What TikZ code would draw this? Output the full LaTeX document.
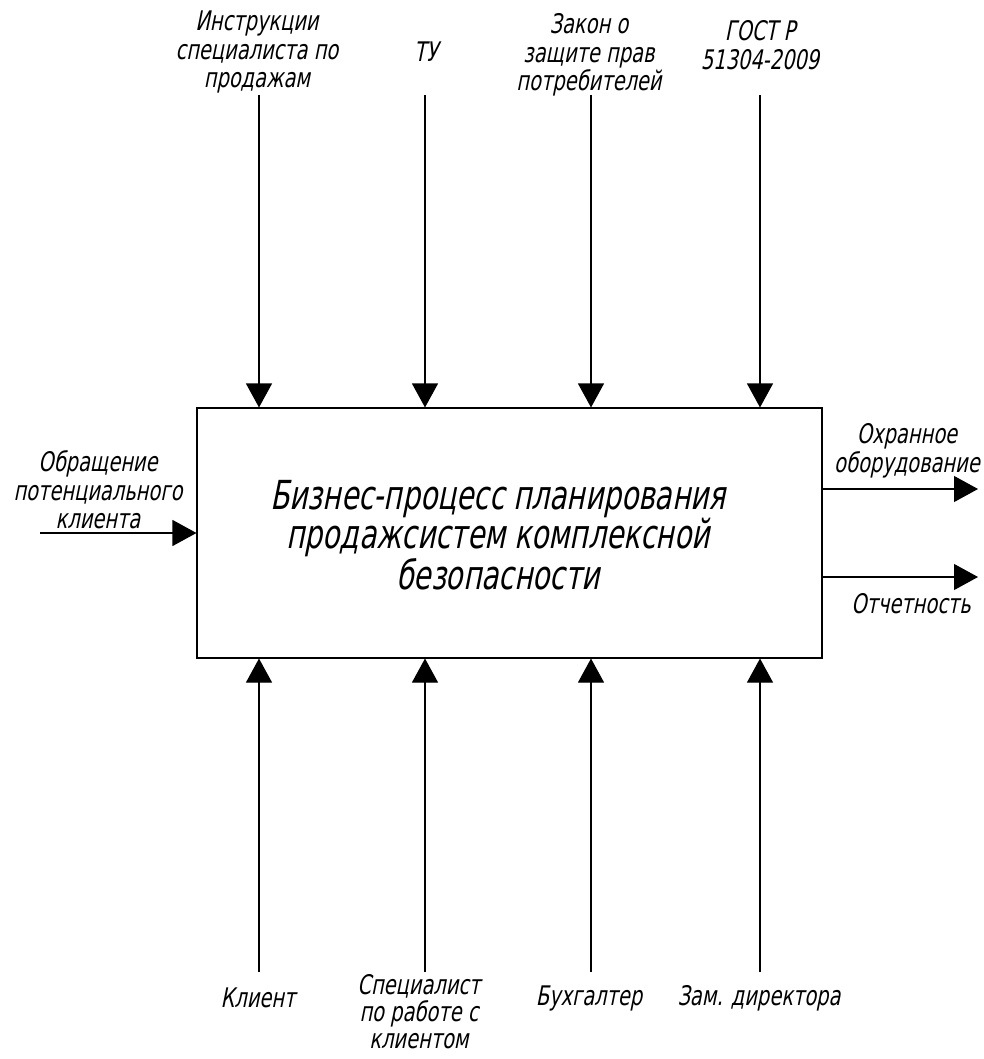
\documentclass[tikz,border=0pt]{standalone}
\usepackage{fontspec}
\usetikzlibrary{arrows.meta}
\newfontfamily\gost{DejaVu Sans Condensed}[FakeSlant=0.2, FakeStretch=0.8]
\newfontfamily\gostbig{DejaVu Sans Condensed}[FakeSlant=0.2, FakeStretch=0.78]
\begin{document}
\begin{tikzpicture}[x=1pt,y=-1pt,
  lbl/.style={font=\gost\fontsize{27}{28.5}\selectfont, align=center, inner sep=0pt},
  big/.style={font=\gostbig\fontsize{40}{38}\selectfont, align=center, inner sep=0pt},
  arr/.style={line width=1.1pt, -{Triangle[length=24pt,width=26pt]}},
  procbox/.style={draw, line width=1.1pt, minimum width=625pt, minimum height=250pt, inner sep=0pt}]
\path[use as bounding box] (0,0) rectangle (984,1059);
\node[procbox] (box) at (509.5,533) {};
\node[big] (title) at (498,535) {Бизнес-процесс планирования\\продажсистем комплексной\\безопасности};
% control arrows
\foreach \x/\n in {259/t1,425/t2,591/t3,760/t4}{
  \coordinate (\n) at (\x,95);
  \draw[arr] (\n) -- (\n |- box.north);
}
\foreach \x/\n in {259/b1,425/b2,591/b3,760/b4}{
  \coordinate (\n) at (\x,972);
  \draw[arr] (\n) -- (\n |- box.south);
}
\coordinate (in1) at (40,533);
\draw[arr] (in1) -- (box.west);
\coordinate (o1) at (978,489);
\coordinate (o2) at (978,577);
\draw[arr] (box.east |- o1) -- (o1);
\draw[arr] (box.east |- o2) -- (o2);
% labels
\node[lbl] (lt1) at (257,52) {Инструкции\\специалиста по\\продажам};
\node[lbl] (lt2) at (426,52) {ТУ};
\node[lbl] (lt3) at (589,55) {Закон о\\защите прав\\потребителей};
\node[lbl] (lt4) at (760,45) {ГОСТ Р\\51304-2009};
\node[lbl] (lin) at (98,490) {Обращение\\потенциального\\клиента};
\node[lbl] (lo1) at (907,451) {Охранное\\оборудование};
\node[lbl] (lo2) at (911,604) {Отчетность};
\node[lbl] (lb1) at (258,998) {Клиент};
\node[lbl, font=\gost\fontsize{27}{27}\selectfont] (lb2) at (419,1012) {Специалист\\по работе с\\клиентом};
\node[lbl] (lb3) at (589,998) {Бухгалтер};
\node[lbl] (lb4) at (759,998) {Зам. директора};
\end{tikzpicture}
\end{document}
